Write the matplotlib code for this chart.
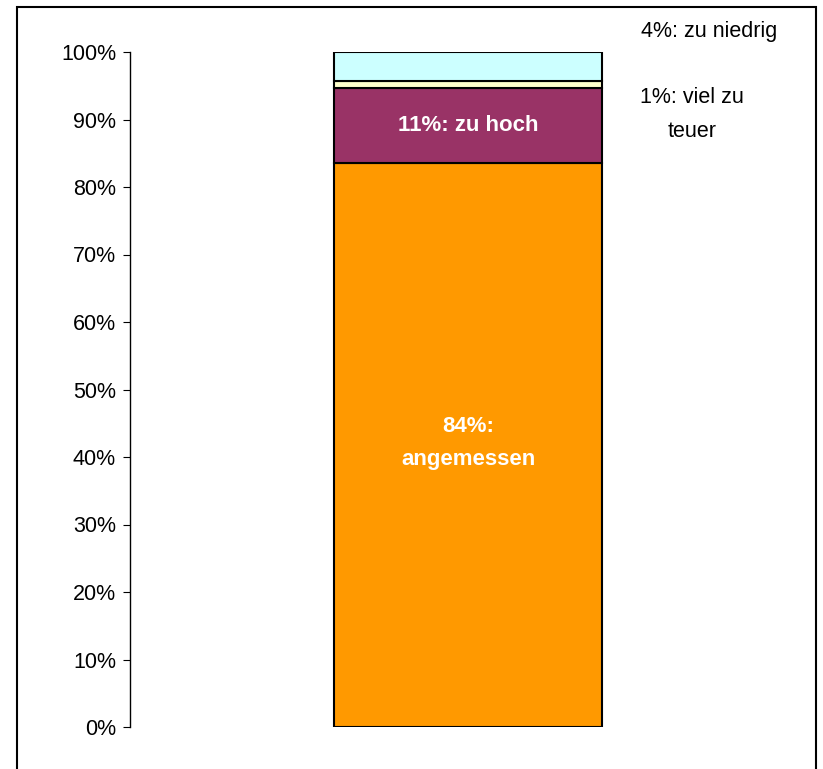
import matplotlib
matplotlib.use('Agg')
import matplotlib.pyplot as plt
from matplotlib.patches import Rectangle
from matplotlib.ticker import PercentFormatter

plt.rcParams['font.family'] = ['Liberation Sans', 'DejaVu Sans']

# Werte (Anteile in %), von unten nach oben gestapelt
kategorien = ['angemessen', 'zu hoch', 'viel zu teuer', 'zu niedrig']
werte = [83.6, 11.1, 1.0, 4.3]
beschriftung = ['84%:\nangemessen', '11%: zu hoch', '1%: viel zu\nteuer', '4%: zu niedrig']
farben = ['#FF9900', '#993366', '#FFFFCC', '#CCFFFF']
yticks = [0, 10, 20, 30, 40, 50, 60, 70, 80, 90, 100]

fig = plt.figure(figsize=(8.23, 7.69), dpi=100)
ax = fig.add_axes([130/823, 42/769, 676/823, 675/769])

unten = 0
for w, f in zip(werte, farben):
    ax.bar(0, w, bottom=unten, width=0.395, color=f, edgecolor='black', linewidth=1.5)
    unten += w

# Beschriftungen in den Balken
ax.text(0, werte[0] / 2 + 0.3, beschriftung[0], ha='center', va='center',
        color='white', fontsize=16, fontweight='bold', linespacing=1.75)
ax.text(0, werte[0] + werte[1] / 2, beschriftung[1], ha='center', va='center',
        color='white', fontsize=16, fontweight='bold')
# Beschriftungen rechts daneben
ax.text(0.331, 90.7, beschriftung[2], ha='center', va='center',
        fontsize=15.5, linespacing=1.8, clip_on=False)
ax.text(0.357, 103.1, beschriftung[3], ha='center', va='center',
        fontsize=15.5, clip_on=False)

ax.set_xlim(-0.5, 0.5)
ax.set_ylim(0, 100)
ax.set_yticks(yticks)
ax.yaxis.set_major_formatter(PercentFormatter(decimals=0))
ax.tick_params(axis='y', direction='out', length=5, labelsize=15.5, pad=5)
ax.set_xticks([])
for s in ['top', 'right', 'bottom']:
    ax.spines[s].set_visible(False)
ax.spines['left'].set_linewidth(1.0)

# Rahmen um die Grafik
fig.patches.append(Rectangle((17/823, -0.05), (816-17)/823, 1.05 - 7/769,
                             transform=fig.transFigure, fill=False,
                             edgecolor='black', linewidth=1.5))

fig.savefig('out.png', dpi=100)
